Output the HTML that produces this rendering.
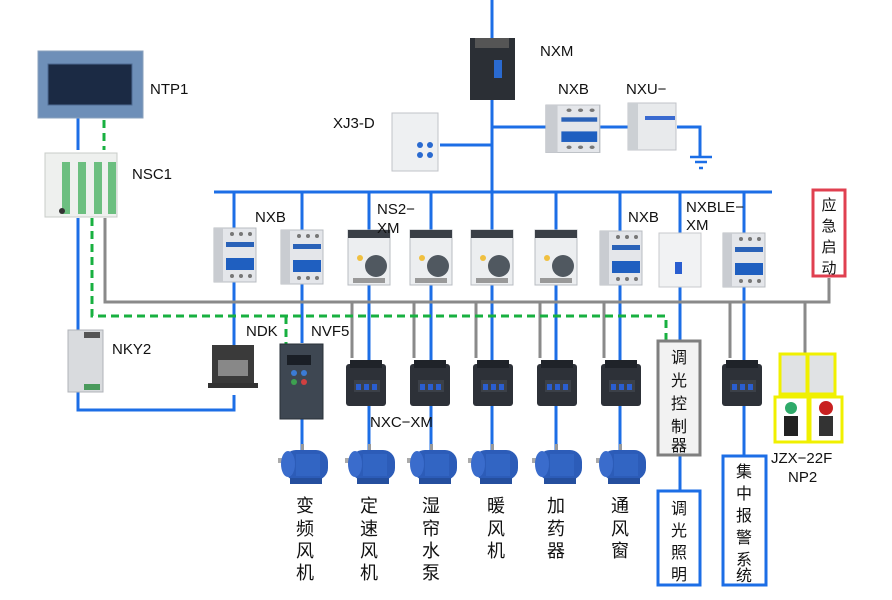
<!DOCTYPE html>
<html><head><meta charset="utf-8"><style>
body{margin:0;background:#fff;}
svg{display:block;}
text{font-family:"Liberation Sans","Noto Sans CJK SC",sans-serif;fill:#111;}
</style></head><body>
<svg width="892" height="600" viewBox="0 0 892 600" xmlns="http://www.w3.org/2000/svg">
<defs>
<g id="mcb">
<rect x="0" y="0" width="42" height="54" fill="#e4e6ea" stroke="#b8bcc2"/>
<rect x="0" y="0" width="9" height="54" fill="#c9ccd1"/>
<rect x="12" y="14" width="28" height="5" fill="#2a62b8"/>
<rect x="12" y="30" width="28" height="12" fill="#1f5fc0"/>
<circle cx="18" cy="6" r="2" fill="#777"/><circle cx="27" cy="6" r="2" fill="#777"/><circle cx="36" cy="6" r="2" fill="#777"/>
<circle cx="18" cy="48" r="2" fill="#777"/><circle cx="27" cy="48" r="2" fill="#777"/><circle cx="36" cy="48" r="2" fill="#777"/>
</g>
<g id="ns2">
<rect x="0" y="0" width="42" height="55" fill="#eceef0" stroke="#b8bcc2"/>
<rect x="0" y="0" width="42" height="8" fill="#3a3f46"/>
<circle cx="28" cy="36" r="11" fill="#505860"/>
<circle cx="12" cy="28" r="3" fill="#f0c040"/>
<rect x="5" y="48" width="32" height="5" fill="#999"/>
</g>
<g id="kc">
<rect x="0" y="4" width="40" height="42" rx="3" fill="#2d3138"/>
<rect x="4" y="0" width="32" height="8" fill="#1f2329"/>
<rect x="8" y="20" width="26" height="12" fill="#3b4048"/>
<rect x="10" y="24" width="5" height="6" fill="#2a5ed0"/><rect x="18" y="24" width="5" height="6" fill="#2a5ed0"/><rect x="26" y="24" width="5" height="6" fill="#2a5ed0"/>
</g>
<g id="mot">
<rect x="-1" y="-6" width="3" height="6" fill="#999"/>
<rect x="-24" y="8" width="8" height="5" fill="#aaa"/>
<rect x="-18" y="0" width="44" height="30" rx="12" fill="#2c5cb8"/>
<ellipse cx="-14" cy="14" rx="7" ry="13" fill="#3a6ccc"/>
<rect x="-6" y="4" width="24" height="22" fill="#3468c6" opacity="0.8"/>
<rect x="-12" y="28" width="32" height="6" fill="#254f9e"/>
</g>
</defs>

<!-- blue lines -->
<g stroke="#1c6ee6" stroke-width="3" fill="none">
<line x1="492" y1="0" x2="492" y2="193"/>
<line x1="492" y1="127" x2="546" y2="127"/>
<line x1="600" y1="127" x2="628" y2="127"/>
<polyline points="677,127 700,127 700,156"/>
<line x1="440" y1="145" x2="492" y2="145"/>
<line x1="214" y1="192" x2="772" y2="192"/>
<line x1="234" y1="192" x2="234" y2="356"/>
<line x1="302" y1="192" x2="302" y2="343"/>
<line x1="369" y1="192" x2="369" y2="450"/>
<line x1="431" y1="192" x2="431" y2="450"/>
<line x1="492" y1="192" x2="492" y2="450"/>
<line x1="556" y1="192" x2="556" y2="450"/>
<line x1="620" y1="192" x2="620" y2="450"/>
<line x1="302" y1="410" x2="302" y2="450"/>
<line x1="680" y1="192" x2="680" y2="342"/>
<line x1="680" y1="455" x2="680" y2="490"/>
<line x1="744" y1="192" x2="744" y2="456"/>
<line x1="78" y1="118" x2="78" y2="150"/>
<line x1="78" y1="218" x2="78" y2="330"/>
<polyline points="78,392 78,410 234,410 234,395"/>
</g>
<g stroke="#1c6ee6" stroke-width="2.5">
<line x1="690" y1="157" x2="712" y2="157"/>
<line x1="695" y1="162" x2="707" y2="162"/>
<line x1="699" y1="168" x2="703" y2="168"/>
</g>
<!-- gray lines -->
<g stroke="#8a8a8a" stroke-width="3" fill="none">
<polyline points="105,218 105,302 829,302 829,278"/>
<line x1="352" y1="302" x2="352" y2="358"/>
<line x1="414" y1="302" x2="414" y2="358"/>
<line x1="476" y1="302" x2="476" y2="358"/>
<line x1="540" y1="302" x2="540" y2="358"/>
<line x1="604" y1="302" x2="604" y2="358"/>
<line x1="730" y1="302" x2="730" y2="358"/>
<line x1="805" y1="302" x2="805" y2="354"/>
</g>
<!-- green dashed -->
<g stroke="#18b040" stroke-width="3" fill="none" stroke-dasharray="8,5">
<line x1="104" y1="120" x2="104" y2="150"/>
<polyline points="92,218 92,316 666,316 666,340"/>
<line x1="286" y1="316" x2="286" y2="345"/>
</g>

<!-- NTP1 -->
<rect x="38" y="51" width="105" height="67" fill="#6e8fb8" stroke="#8aa0bd"/>
<rect x="48" y="64" width="84" height="41" fill="#1b2a44" stroke="#4d6a92"/>
<text x="150" y="94" font-size="15">NTP1</text>
<!-- NSC1 -->
<rect x="45" y="153" width="72" height="64" fill="#eef0ee" stroke="#c8ccc8"/>
<rect x="62" y="162" width="8" height="52" fill="#6cbf80"/>
<rect x="78" y="162" width="8" height="52" fill="#6cbf80"/>
<rect x="94" y="162" width="8" height="52" fill="#6cbf80"/>
<rect x="108" y="162" width="8" height="52" fill="#6cbf80"/>
<circle cx="62" cy="211" r="3" fill="#333"/>
<text x="132" y="179" font-size="15">NSC1</text>
<!-- NKY2 -->
<rect x="68" y="330" width="35" height="62" fill="#d9dbde" stroke="#b0b3b8"/>
<rect x="84" y="332" width="16" height="6" fill="#555"/>
<rect x="84" y="384" width="16" height="6" fill="#4a9a5c"/>
<text x="112" y="354" font-size="15">NKY2</text>
<!-- NDK -->
<rect x="212" y="345" width="42" height="40" fill="#3a3a3a"/>
<rect x="218" y="360" width="30" height="16" fill="#888"/>
<rect x="208" y="383" width="50" height="5" fill="#333"/>
<text x="246" y="336" font-size="15">NDK</text>
<!-- NVF5 -->
<rect x="280" y="344" width="43" height="75" fill="#3e4752" stroke="#2a3038"/>
<rect x="287" y="355" width="24" height="10" fill="#1a1f26"/>
<circle cx="294" cy="373" r="3" fill="#3b7bd4"/><circle cx="304" cy="373" r="3" fill="#3b7bd4"/>
<circle cx="294" cy="382" r="3" fill="#3da050"/><circle cx="304" cy="382" r="3" fill="#d04040"/>
<text x="311" y="336" font-size="15">NVF5</text>

<!-- top devices -->
<rect x="470" y="38" width="45" height="62" fill="#2b2f35"/>
<rect x="475" y="38" width="34" height="10" fill="#555"/>
<rect x="494" y="60" width="8" height="18" fill="#2a6ad0"/>
<text x="540" y="56" font-size="15">NXM</text>
<rect x="392" y="113" width="46" height="58" fill="#eef0f2" stroke="#c0c3c8"/>
<circle cx="420" cy="145" r="3" fill="#2a6ad0"/><circle cx="430" cy="145" r="3" fill="#2a6ad0"/>
<circle cx="420" cy="155" r="3" fill="#2a6ad0"/><circle cx="430" cy="155" r="3" fill="#2a6ad0"/>
<text x="333" y="128" font-size="15">XJ3-D</text>
<g transform="translate(546,105) scale(1.28,0.88)"><use href="#mcb"/></g>
<text x="558" y="94" font-size="15">NXB</text>
<rect x="628" y="103" width="48" height="47" fill="#e8eaec" stroke="#c0c3c8"/>
<rect x="628" y="103" width="10" height="47" fill="#ccd0d4"/>
<rect x="645" y="116" width="30" height="4" fill="#3a6ad0"/>
<text x="626" y="94" font-size="15">NXU−</text>

<!-- row devices -->
<use href="#mcb" x="214" y="228"/>
<text x="255" y="222" font-size="15">NXB</text>
<use href="#mcb" x="281" y="230"/>
<use href="#ns2" x="348" y="230"/>
<text x="377" y="214" font-size="15">NS2−</text>
<text x="377" y="233" font-size="15">XM</text>
<use href="#ns2" x="410" y="230"/>
<use href="#ns2" x="471" y="230"/>
<use href="#ns2" x="535" y="230"/>
<use href="#mcb" x="600" y="231"/>
<text x="628" y="222" font-size="15">NXB</text>
<rect x="659" y="233" width="42" height="54" fill="#f1f2f3" stroke="#c8cacd"/>
<rect x="675" y="262" width="7" height="12" fill="#2a5ed0"/>
<text x="686" y="212" font-size="15">NXBLE−</text>
<text x="686" y="230" font-size="15">XM</text>
<use href="#mcb" x="723" y="233"/>
<!-- red box -->
<rect x="813" y="190" width="32" height="86" fill="#fff" stroke="#e04050" stroke-width="3"/>
<text x="829" y="210" font-size="15" text-anchor="middle">应</text>
<text x="829" y="231" font-size="15" text-anchor="middle">急</text>
<text x="829" y="252" font-size="15" text-anchor="middle">启</text>
<text x="829" y="273" font-size="15" text-anchor="middle">动</text>

<!-- contactors -->
<use href="#kc" x="346" y="360"/>
<use href="#kc" x="410" y="360"/>
<use href="#kc" x="473" y="360"/>
<use href="#kc" x="537" y="360"/>
<use href="#kc" x="601" y="360"/>
<use href="#kc" x="722" y="360"/>
<text x="370" y="427" font-size="15">NXC−XM</text>

<!-- dimming boxes -->
<rect x="658" y="341" width="42" height="114" fill="#f2f2f2" stroke="#7f7f7f" stroke-width="3"/>
<text x="679" y="363" font-size="16" text-anchor="middle">调</text>
<text x="679" y="386" font-size="16" text-anchor="middle">光</text>
<text x="679" y="409" font-size="16" text-anchor="middle">控</text>
<text x="679" y="432" font-size="16" text-anchor="middle">制</text>
<text x="679" y="455" font-size="16" text-anchor="middle" dy="-4">器</text>
<rect x="658" y="491" width="42" height="94" fill="#fff" stroke="#1c6ee6" stroke-width="3"/>
<text x="679" y="514" font-size="16" text-anchor="middle">调</text>
<text x="679" y="536" font-size="16" text-anchor="middle">光</text>
<text x="679" y="558" font-size="16" text-anchor="middle">照</text>
<text x="679" y="580" font-size="16" text-anchor="middle">明</text>
<rect x="723" y="456" width="43" height="129" fill="#fff" stroke="#1c6ee6" stroke-width="3"/>
<text x="744" y="477" font-size="16" text-anchor="middle">集</text>
<text x="744" y="499" font-size="16" text-anchor="middle">中</text>
<text x="744" y="521" font-size="16" text-anchor="middle">报</text>
<text x="744" y="543" font-size="16" text-anchor="middle">警</text>
<text x="744" y="565" font-size="16" text-anchor="middle">系</text>
<text x="744" y="583" font-size="16" text-anchor="middle" dy="-2">统</text>

<!-- relays & buttons -->
<rect x="780" y="354" width="27" height="40" fill="#e0e2e4" stroke="#f0f000" stroke-width="3"/>
<rect x="808" y="354" width="27" height="40" fill="#e0e2e4" stroke="#f0f000" stroke-width="3"/>
<rect x="775" y="397" width="33" height="45" fill="#fff" stroke="#f0f000" stroke-width="3"/>
<rect x="810" y="397" width="32" height="45" fill="#fff" stroke="#f0f000" stroke-width="3"/>
<circle cx="791" cy="408" r="6" fill="#2eaa6a"/><rect x="784" y="416" width="14" height="20" fill="#222"/>
<circle cx="826" cy="408" r="7" fill="#c82020"/><rect x="819" y="416" width="14" height="20" fill="#333"/>
<text x="771" y="463" font-size="15">JZX−22F</text>
<text x="788" y="482" font-size="15">NP2</text>

<!-- motors -->
<use href="#mot" x="302" y="450"/>
<use href="#mot" x="369" y="450"/>
<use href="#mot" x="431" y="450"/>
<use href="#mot" x="492" y="450"/>
<use href="#mot" x="556" y="450"/>
<use href="#mot" x="620" y="450"/>

<g font-size="18" text-anchor="middle">
<text x="305" y="512">变</text><text x="305" y="535">频</text><text x="305" y="557">风</text><text x="305" y="579">机</text>
<text x="369" y="512">定</text><text x="369" y="535">速</text><text x="369" y="557">风</text><text x="369" y="579">机</text>
<text x="431" y="512">湿</text><text x="431" y="535">帘</text><text x="431" y="557">水</text><text x="431" y="579">泵</text>
<text x="496" y="512">暖</text><text x="496" y="535">风</text><text x="496" y="557">机</text>
<text x="556" y="512">加</text><text x="556" y="535">药</text><text x="556" y="557">器</text>
<text x="620" y="512">通</text><text x="620" y="535">风</text><text x="620" y="557">窗</text>
</g>
</svg>
</body></html>
